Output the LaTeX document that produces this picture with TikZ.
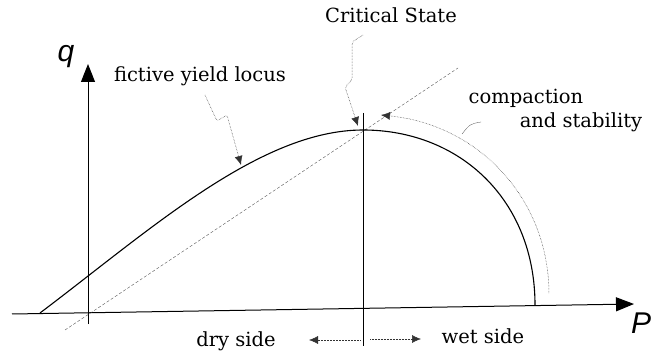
\documentclass[tikz,border=0pt]{standalone}
\usepackage{fontspec}
\setmainfont{DejaVu Serif}
\setsansfont{Liberation Sans}
\usetikzlibrary{arrows.meta,positioning}
\tikzset{
  >={Triangle[length=18pt,width=14pt]},
  axis/.style={draw, line width=1pt, ->},
  locus/.style={draw, line width=1.1pt},
  thinline/.style={draw, line width=0.3pt},
  csline/.style={draw, densely dashed, line width=0.35pt, black!75},
  lead/.style={draw, densely dotted, line width=0.5pt, black!80,
    -{Latex[length=9pt,width=8pt]}, rounded corners=2pt},
  lbl/.style={font=\fontsize{19.5}{22}\selectfont, inner sep=0pt},
  axlbl/.style={font=\fontsize{30}{30}\selectfont\sffamily\itshape, inner sep=0pt},
}

\begin{document}
\begin{tikzpicture}[x=1pt, y=-1pt]
  \useasboundingbox (0,0) rectangle (651,358);
  \coordinate (pstart) at (12,314);
  \coordinate (pend) at (634,304);
  \coordinate (qbot) at (88,324);
  \coordinate (qtop) at (88,64);
  \coordinate (cs) at (363,130);
  \coordinate (ylstart) at (40,313);
  \coordinate (ylend) at (535,305);
  \coordinate (cslo) at (65,330);
  \coordinate (cshi) at (458,68);
  \coordinate (vtop) at (363,113);
  \coordinate (vbot) at (363,346);
  \coordinate (cptop) at (381,115);
  \coordinate (cpbot) at (549,294);
  \coordinate (drytip) at (309,340);
  \coordinate (drytail) at (360,340);
  \coordinate (wettip) at (421,339);
  \coordinate (wettail) at (370,339);
  \coordinate (fylfoot) at (205,95);
  \coordinate (fyltip) at (241,165);
  \coordinate (cstfoot) at (363,35);
  \coordinate (csttip) at (358,126);
  \coordinate (cplead) at (481,122);
  \coordinate (cpfoot) at (462,134);

  \node[axlbl] (qlab) at (66,57) {q};
  \node[axlbl] (plab) at (641,323) {P};
  \node[lbl] (fyl) at (200,76) {fictive yield locus};
  \node[lbl] (cst) at (391,15) {Critical State};
  \node[lbl] (comp) at (526,98) {compaction};
  \node[lbl] (stab) at (581,122) {and stability};
  \node[lbl] (dry) at (236,341) {dry side};
  \node[lbl] (wet) at (483,336) {wet side};

  \draw[axis] (pstart) -- (pend);
  \draw[axis] (qbot) -- (qtop);
  \draw[csline] (cslo) -- (cshi);
  \draw[thinline] (vtop) -- (vbot);
  \draw[locus] (ylstart) .. controls (150,230) and (260,130) .. (cs)
    .. controls (460,130) and (535,200) .. (ylend);
  \draw[lead, {Latex[length=9pt,width=8pt]}-] (cptop)
    .. controls (480,125) and (549,200) .. (cpbot);
  \draw[thinline, black!70] (cplead) .. controls (470,124) .. (cpfoot);
  \draw[lead] (fylfoot) -- (217,121) -- (227,115) -- (fyltip);
  \draw[lead] (cstfoot) -- (352,42) -- (352,80) -- (345,87) -- (csttip);
  \draw[lead] (drytail) -- (drytip);
  \draw[lead] (wettail) -- (wettip);
\end{tikzpicture}
\end{document}
